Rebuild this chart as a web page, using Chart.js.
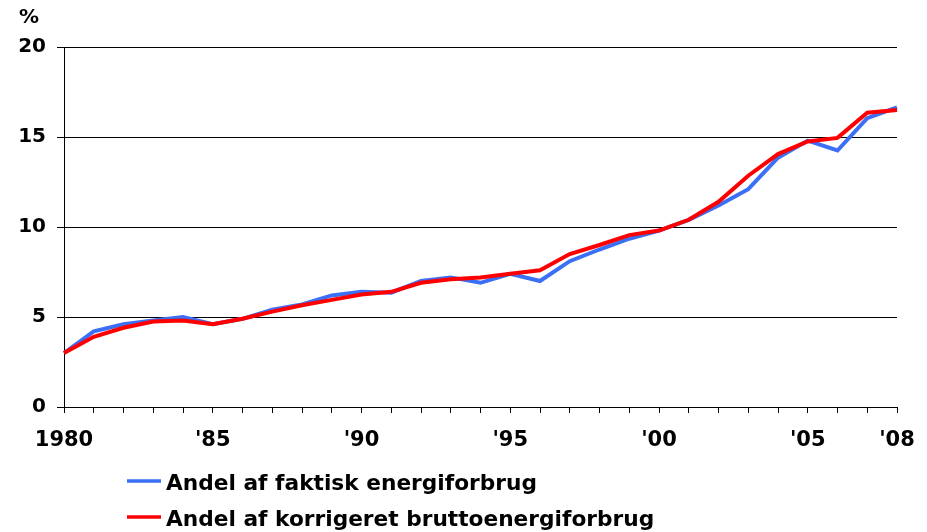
<!DOCTYPE html>
<html>
<head>
<meta charset="utf-8">
<script src="https://cdn.jsdelivr.net/npm/chart.js@4.4.1/dist/chart.umd.min.js"></script>
<style>
html,body{margin:0;padding:0;background:#fff;}
#wrap{width:927px;height:532px;position:relative;}
</style>
</head>
<body>
<div id="wrap"><canvas id="c" width="927" height="532"></canvas></div>
<script>
const years = [1980,1981,1982,1983,1984,1985,1986,1987,1988,1989,1990,1991,1992,1993,1994,1995,1996,1997,1998,1999,2000,2001,2002,2003,2004,2005,2006,2007,2008];
const tickLabels = {1980:'1980',1985:"'85",1990:"'90",1995:"'95",2000:"'00",2005:"'05",2008:"'08"};
const faktisk = [3.0,4.2,4.6,4.8,5.0,4.6,4.9,5.4,5.7,6.2,6.4,6.35,7.0,7.2,6.9,7.4,7.0,8.1,8.75,9.35,9.8,10.4,11.2,12.1,13.85,14.8,14.25,16.05,16.65];
const korrigeret = [3.0,3.9,4.4,4.75,4.8,4.6,4.9,5.3,5.65,5.95,6.25,6.4,6.9,7.1,7.2,7.4,7.6,8.5,9.0,9.55,9.8,10.4,11.4,12.85,14.05,14.75,14.95,16.35,16.5];
const seriesLabels = ['Andel af faktisk energiforbrug','Andel af korrigeret bruttoenergiforbrug'];
const yUnit = '%';

const FONT = 'DejaVu Sans';

const extras = {
  id: 'extras',
  afterDraw(chart) {
    const ctx = chart.ctx;
    ctx.save();
    ctx.fillStyle = '#000';
    ctx.font = 'bold 20px "' + FONT + '"';
    ctx.textAlign = 'center';
    ctx.textBaseline = 'middle';
    ctx.fillText(yUnit, 29, 18);
    // legend
    const rows = [481, 517];
    chart.data.datasets.forEach((ds, i) => {
      const idx = ds.legendIndex;
      const y = rows[idx];
      ctx.strokeStyle = ds.borderColor;
      ctx.lineWidth = 3.5;
      ctx.beginPath();
      ctx.moveTo(127, y);
      ctx.lineTo(161, y);
      ctx.stroke();
      ctx.font = 'bold 21.7px "' + FONT + '"';
      ctx.textAlign = 'left';
      ctx.textBaseline = 'middle';
      ctx.fillStyle = '#000';
      ctx.fillText(ds.label, 166, y + 3);
    });
    ctx.restore();
  }
};

new Chart(document.getElementById('c'), {
  type: 'line',
  data: {
    labels: years,
    datasets: [
      {label: seriesLabels[1], data: korrigeret, borderColor: '#ff0000', borderWidth: 4, pointRadius: 0, tension: 0, order: 0, legendIndex: 1},
      {label: seriesLabels[0], data: faktisk, borderColor: '#3b6ff5', borderWidth: 4, pointRadius: 0, tension: 0, order: 1, legendIndex: 0}
    ]
  },
  options: {
    responsive: false,
    animation: false,
    layout: {padding: {left: 0, right: 30, top: 47, bottom: 0}},
    plugins: {legend: {display: false}, tooltip: {enabled: false}},
    scales: {
      x: {
        type: 'category',
        offset: false,
        afterFit(s) { s.height = 125; s.paddingRight = 0; s.paddingLeft = 0; },
        border: {display: true, color: '#000', width: 1},
        grid: {display: true, drawOnChartArea: false, drawTicks: true, tickLength: 6, color: '#000', lineWidth: 1},
        ticks: {
          autoSkip: false, maxRotation: 0, minRotation: 0, padding: 15,
          color: '#000',
          font: {family: FONT, size: 21, weight: 'bold'},
          callback(v, i) { const y = years[i]; return tickLabels[y] || ''; }
        }
      },
      y: {
        min: 0, max: 20,
        afterFit(s) { s.width = 64; },
        border: {display: true, color: '#000', width: 1},
        grid: {color: '#000', lineWidth: 1, drawTicks: true, tickLength: 7},
        ticks: {
          stepSize: 5, padding: 11, color: '#000',
          font: {family: FONT, size: 20, weight: 'bold'}
        }
      }
    }
  },
  plugins: [extras]
});
</script>
</body>
</html>
